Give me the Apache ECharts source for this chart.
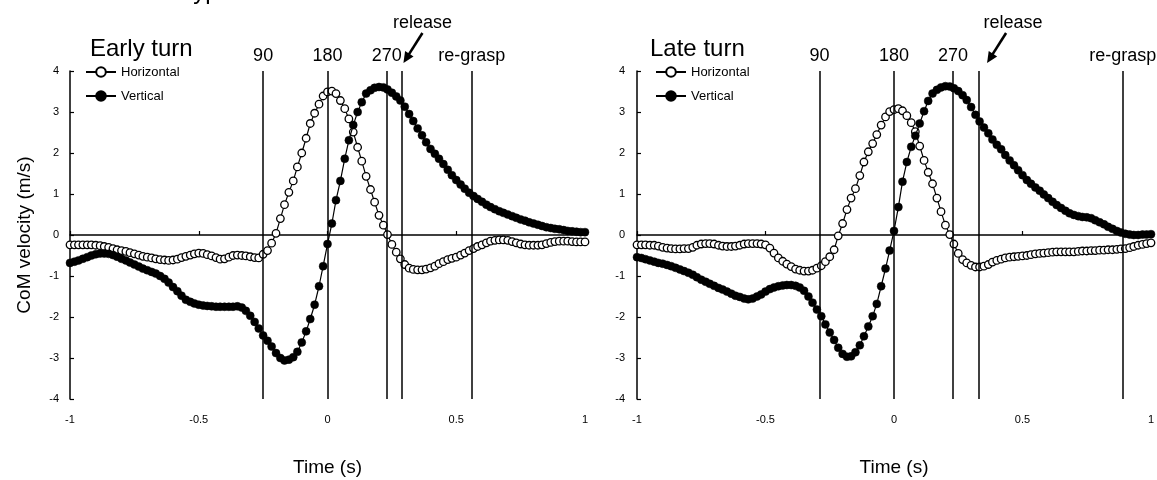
<!DOCTYPE html>
<html>
<head>
<meta charset="utf-8">
<script src="https://cdn.jsdelivr.net/npm/echarts@6/dist/echarts.min.js"></script>
<style>html,body{margin:0;padding:0;background:#fff}#c{width:1157px;height:480px}</style>
</head>
<body>
<div id="c"></div>
<script>
// ---------- DATA ----------
const times = [
 -1,-0.983,-0.967,-0.95,-0.933,-0.917,-0.9,-0.883,-0.867,-0.85,
 -0.833,-0.817,-0.8,-0.783,-0.767,-0.75,-0.733,-0.717,-0.7,-0.683,
 -0.667,-0.65,-0.633,-0.617,-0.6,-0.583,-0.567,-0.55,-0.533,-0.517,
 -0.5,-0.483,-0.467,-0.45,-0.433,-0.417,-0.4,-0.383,-0.367,-0.35,
 -0.333,-0.317,-0.3,-0.283,-0.267,-0.25,-0.233,-0.217,-0.2,-0.183,
 -0.167,-0.15,-0.133,-0.117,-0.1,-0.083,-0.067,-0.05,-0.033,-0.017,
 0,0.017,0.033,0.05,0.067,0.083,0.1,0.117,0.133,0.15,
 0.167,0.183,0.2,0.217,0.233,0.25,0.267,0.283,0.3,0.317,
 0.333,0.35,0.367,0.383,0.4,0.417,0.433,0.45,0.467,0.483,
 0.5,0.517,0.533,0.55,0.567,0.583,0.6,0.617,0.633,0.65,
 0.667,0.683,0.7,0.717,0.733,0.75,0.767,0.783,0.8,0.817,
 0.833,0.85,0.867,0.883,0.9,0.917,0.933,0.95,0.967,0.983,
 1
];

const earlyHorizontal = [
 -0.24,-0.24,-0.24,-0.24,-0.24,-0.24,-0.25,-0.26,-0.28,-0.30,
 -0.33,-0.36,-0.38,-0.40,-0.43,-0.46,-0.49,-0.52,-0.54,-0.56,
 -0.58,-0.60,-0.61,-0.62,-0.61,-0.59,-0.55,-0.52,-0.49,-0.46,
 -0.44,-0.45,-0.48,-0.51,-0.55,-0.59,-0.58,-0.54,-0.50,-0.49,
 -0.50,-0.51,-0.53,-0.55,-0.56,-0.47,-0.38,-0.20,0.04,0.40,
 0.74,1.04,1.32,1.66,2.00,2.36,2.72,2.97,3.19,3.39,
 3.49,3.51,3.45,3.28,3.08,2.83,2.51,2.14,1.80,1.43,
 1.11,0.80,0.48,0.24,0.01,-0.23,-0.42,-0.58,-0.72,-0.81,
 -0.84,-0.85,-0.85,-0.83,-0.80,-0.76,-0.70,-0.65,-0.60,-0.57,
 -0.54,-0.49,-0.44,-0.38,-0.33,-0.28,-0.24,-0.19,-0.15,-0.13,
 -0.12,-0.12,-0.13,-0.16,-0.19,-0.22,-0.24,-0.25,-0.25,-0.25,
 -0.24,-0.21,-0.18,-0.16,-0.15,-0.15,-0.15,-0.16,-0.17,-0.17,
 -0.17
];

const earlyVertical = [
 -0.68,-0.65,-0.62,-0.58,-0.54,-0.50,-0.47,-0.45,-0.45,-0.46,
 -0.49,-0.53,-0.58,-0.62,-0.67,-0.72,-0.77,-0.82,-0.86,-0.90,
 -0.94,-1.00,-1.07,-1.16,-1.27,-1.37,-1.48,-1.58,-1.63,-1.67,
 -1.70,-1.72,-1.73,-1.74,-1.75,-1.75,-1.75,-1.75,-1.75,-1.74,
 -1.77,-1.85,-1.97,-2.12,-2.28,-2.45,-2.58,-2.72,-2.88,-3.00,
 -3.06,-3.04,-2.98,-2.85,-2.62,-2.35,-2.05,-1.70,-1.25,-0.76,
 -0.22,0.28,0.85,1.32,1.86,2.31,2.68,3.00,3.24,3.45,
 3.53,3.59,3.61,3.60,3.55,3.47,3.38,3.28,3.13,2.95,
 2.78,2.60,2.43,2.26,2.10,1.98,1.86,1.73,1.59,1.46,
 1.34,1.23,1.13,1.03,0.95,0.88,0.81,0.74,0.68,0.63,
 0.58,0.54,0.50,0.46,0.42,0.38,0.35,0.31,0.28,0.25,
 0.22,0.19,0.17,0.15,0.14,0.12,0.10,0.09,0.08,0.07,
 0.07
];

const lateHorizontal = [
 -0.24,-0.24,-0.24,-0.25,-0.25,-0.27,-0.30,-0.32,-0.33,-0.34,
 -0.34,-0.33,-0.33,-0.30,-0.25,-0.22,-0.21,-0.21,-0.22,-0.25,
 -0.27,-0.28,-0.28,-0.27,-0.25,-0.22,-0.21,-0.21,-0.21,-0.22,
 -0.24,-0.32,-0.44,-0.56,-0.64,-0.71,-0.77,-0.83,-0.86,-0.88,
 -0.88,-0.86,-0.81,-0.75,-0.65,-0.53,-0.36,-0.02,0.28,0.62,
 0.90,1.13,1.45,1.78,2.03,2.23,2.45,2.68,2.88,3.01,
 3.06,3.08,3.03,2.91,2.74,2.52,2.17,1.82,1.53,1.25,
 0.90,0.57,0.24,0.01,-0.22,-0.45,-0.60,-0.68,-0.74,-0.78,
 -0.78,-0.76,-0.72,-0.66,-0.62,-0.59,-0.56,-0.54,-0.53,-0.52,
 -0.51,-0.50,-0.48,-0.46,-0.45,-0.44,-0.43,-0.42,-0.41,-0.41,
 -0.41,-0.41,-0.41,-0.40,-0.39,-0.39,-0.38,-0.38,-0.37,-0.37,
 -0.36,-0.36,-0.35,-0.34,-0.33,-0.31,-0.28,-0.25,-0.23,-0.21,
 -0.19
];

const lateVertical = [
 -0.54,-0.56,-0.59,-0.62,-0.65,-0.68,-0.70,-0.73,-0.76,-0.80,
 -0.84,-0.88,-0.92,-0.97,-1.03,-1.09,-1.14,-1.19,-1.24,-1.29,
 -1.33,-1.38,-1.43,-1.48,-1.51,-1.55,-1.57,-1.55,-1.50,-1.45,
 -1.38,-1.32,-1.28,-1.25,-1.23,-1.22,-1.22,-1.24,-1.28,-1.36,
 -1.50,-1.65,-1.82,-1.98,-2.18,-2.38,-2.56,-2.75,-2.90,-2.97,
 -2.96,-2.86,-2.69,-2.47,-2.23,-1.98,-1.68,-1.25,-0.82,-0.38,
 0.10,0.68,1.30,1.78,2.15,2.42,2.72,3.02,3.27,3.45,
 3.54,3.60,3.63,3.62,3.58,3.51,3.41,3.29,3.12,2.93,
 2.77,2.62,2.48,2.33,2.20,2.09,1.95,1.82,1.70,1.58,
 1.46,1.34,1.25,1.16,1.08,0.99,0.90,0.81,0.73,0.66,
 0.59,0.53,0.49,0.46,0.44,0.43,0.41,0.36,0.31,0.26,
 0.20,0.15,0.10,0.06,0.03,0.01,0.00,0.00,0.01,0.01,
 0.02
];

const eventNames = ['90', '180', '270', '', 're-grasp'];
const earlyEvents = [-0.247, 0, 0.233, 0.291, 0.556];
const lateEvents = [-0.288, 0, 0.231, 0.331, 0.892];
const releaseIndex = 3;

const xTickMin = -1, xTickMax = 1, xTickStep = 0.5;
const yTickMin = -4, yTickMax = 4, yTickStep = 1;

const panelTitles = ['Early turn', 'Late turn'];
const seriesNames = ['Horizontal', 'Vertical'];
const yTitle = 'CoM velocity (m/s)';
const xTitle = 'Time (s)';
const topTitle = 'Typical';

// ---------- LAYOUT / STYLE ----------
const FONT = '"Liberation Sans", Arial, Helvetica, sans-serif';
const panels = [
  { grid: {left: 70, top: 71, width: 515, height: 328}, h: earlyHorizontal, v: earlyVertical, events: earlyEvents,
    legendLeft: 85, titleX: 90, arrowDx: 1, textDx: 0, yLabelMargin: 11 },
  { grid: {left: 637, top: 71, width: 514, height: 328}, h: lateHorizontal, v: lateVertical, events: lateEvents,
    legendLeft: 655, titleX: 650, arrowDx: 8, textDx: 7, yLabelMargin: 12 }
];

const pair = arr => times.map((t, i) => [t, arr[i]]);

const xAxes = [], yAxes = [], series = [], legends = [];
panels.forEach((p, gi) => {
  xAxes.push({
    type: 'value', gridIndex: gi, position: 'bottom', min: xTickMin, max: xTickMax, interval: xTickStep,
    axisLine: {show: true, onZero: true, lineStyle: {color: '#000', width: 1.5}},
    axisTick: {show: true, inside: true, length: 4, lineStyle: {color: '#000', width: 1.2}},
    axisLabel: {show: false}, splitLine: {show: false}
  });
  xAxes.push({
    type: 'value', gridIndex: gi, position: 'bottom', min: xTickMin, max: xTickMax, interval: xTickStep,
    axisLine: {show: false, onZero: false}, axisTick: {show: false},
    axisLabel: {show: true, margin: 15, fontSize: 11, color: '#000', fontFamily: FONT},
    splitLine: {show: false}
  });
  yAxes.push({
    type: 'value', gridIndex: gi, min: yTickMin, max: yTickMax, interval: yTickStep,
    axisLine: {show: true, onZero: false, lineStyle: {color: '#000', width: 1.5}},
    axisTick: {show: true, inside: true, length: 4, lineStyle: {color: '#000', width: 1.2}},
    axisLabel: {show: true, margin: p.yLabelMargin, fontSize: 11, color: '#000', fontFamily: FONT},
    splitLine: {show: false}
  });
  series.push({
    name: seriesNames[0], type: 'line', xAxisIndex: gi * 2, yAxisIndex: gi,
    data: pair(p.h), symbol: 'circle', symbolSize: 7.5, showAllSymbol: true,
    itemStyle: {color: '#fff', borderColor: '#000', borderWidth: 1.3},
    lineStyle: {color: '#000', width: 1.2}, emphasis: {disabled: true}, z: 3,
    markLine: {
      symbol: 'none', silent: true, animation: false,
      lineStyle: {color: '#000', width: 1.5, type: 'solid'},
      label: {show: true, position: 'end', distance: 6, fontSize: 18, color: '#000', fontFamily: FONT,
              formatter: q => q.name},
      emphasis: {disabled: true},
      data: p.events.map((x, k) => ({xAxis: x, name: eventNames[k], label: {show: eventNames[k] !== ''}}))
    }
  });
  series.push({
    name: seriesNames[1], type: 'line', xAxisIndex: gi * 2, yAxisIndex: gi,
    data: pair(p.v), symbol: 'circle', symbolSize: 8, showAllSymbol: true,
    itemStyle: {color: '#000', borderColor: '#000', borderWidth: 0.5},
    lineStyle: {color: '#000', width: 1.2}, emphasis: {disabled: true}, z: 4
  });
  legends.push({
    left: p.legendLeft, top: 65, orient: 'vertical', itemWidth: 30, itemHeight: 12, itemGap: 10,
    selectedMode: false, padding: 0,
    textStyle: {fontSize: 13, color: '#000', fontFamily: FONT, lineHeight: 14},
    data: seriesNames
  });
});

const option = {
  animation: false,
  backgroundColor: '#fff',
  textStyle: {fontFamily: FONT, color: '#000'},
  grid: panels.map(p => Object.assign({outerBoundsMode: 'none', containLabel: false}, p.grid)),
  xAxis: xAxes,
  yAxis: yAxes,
  legend: legends,
  series: series
};

const chart = echarts.init(document.getElementById('c'), null, {renderer: 'canvas'});
chart.setOption(option);

// ---------- annotations tied to scales ----------
const gfx = [];
const txt = (x, y, s, size, align, vAlign, rot) => ({
  type: 'text', x: x, y: y, rotation: rot || 0, silent: true,
  style: {text: s, fontSize: size, fontFamily: FONT, fill: '#000', align: align, verticalAlign: vAlign}
});
panels.forEach((p, gi) => {
  const finder = {xAxisIndex: gi * 2, yAxisIndex: gi};
  const rel = chart.convertToPixel(finder, [p.events[releaseIndex], yTickMax]);
  const zeroBottom = chart.convertToPixel(finder, [0, yTickMin]);
  gfx.push(txt(p.titleX, 49, panelTitles[gi], 24, 'left', 'middle'));
  gfx.push(txt(zeroBottom[0], 468, xTitle, 19, 'center', 'middle'));
  const tip = [rel[0] + p.arrowDx, rel[1] - 8];
  const tail = [tip[0] + 19, tip[1] - 30];
  const dx = tip[0] - tail[0], dy = tip[1] - tail[1];
  const L = Math.sqrt(dx * dx + dy * dy), ux = dx / L, uy = dy / L;
  const base = [tip[0] - ux * 11, tip[1] - uy * 11];
  const nx = -uy, ny = ux;
  gfx.push({type: 'line', silent: true, shape: {x1: tail[0], y1: tail[1], x2: base[0] + ux * 2, y2: base[1] + uy * 2},
            style: {stroke: '#000', lineWidth: 2.6}});
  gfx.push({type: 'polygon', silent: true,
            shape: {points: [tip, [base[0] + nx * 5, base[1] + ny * 5], [base[0] - nx * 5, base[1] - ny * 5]]},
            style: {fill: '#000'}});
  gfx.push(txt(tail[0] + p.textDx, 23, 'release', 18, 'center', 'middle'));
});
gfx.push(txt(25, 235, yTitle, 19, 'center', 'middle', Math.PI / 2));
gfx.push(txt(180, 4, topTitle, 24, 'left', 'bottom'));
chart.setOption({graphic: gfx});
</script>
</body>
</html>
